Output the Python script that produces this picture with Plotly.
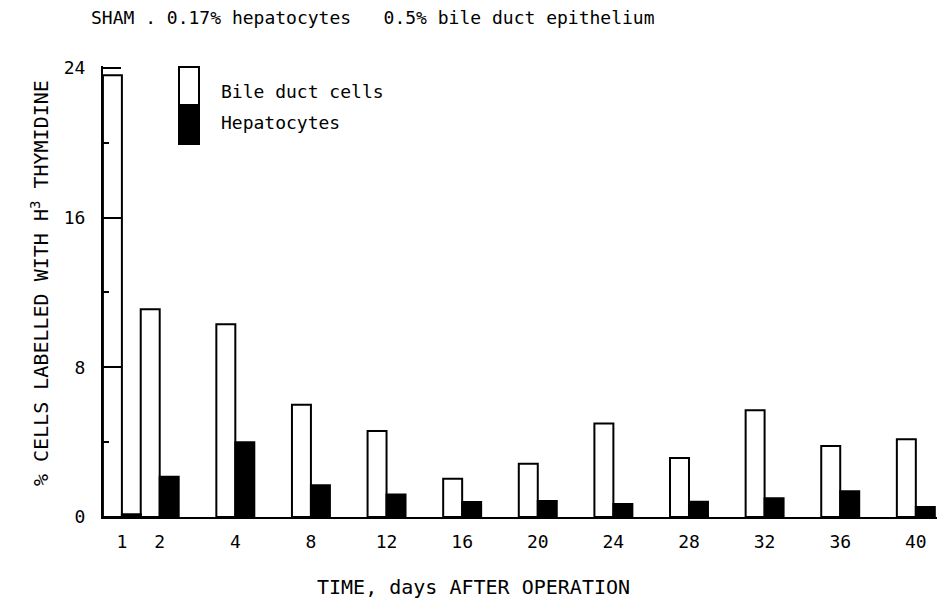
import plotly.graph_objects as go

# ---- data ----
days = ["1", "2", "4", "8", "12", "16", "20", "24", "28", "32", "36", "40"]
positions = [0.5, 1, 2, 3, 4, 5, 6, 7, 8, 9, 10, 11]
bile_duct = [23.6, 11.1, 10.3, 6.0, 4.6, 2.05, 2.85, 5.0, 3.15, 5.7, 3.8, 4.15]
hepatocytes = [0.15, 2.15, 4.0, 1.7, 1.2, 0.8, 0.85, 0.7, 0.82, 1.0, 1.38, 0.53]
y_ticks = [0, 8, 16, 24]

FONT = "DejaVu Sans Mono"
W, H = 940, 602
ML, MR, MT, MB = 103, 3, 66, 85
BW = 0.251

fig = go.Figure()
fig.add_trace(go.Bar(
    x=positions, y=bile_duct, width=BW, offset=-BW,
    marker=dict(color="white", line=dict(color="black", width=2)),
    name="Bile duct cells", showlegend=False,
))
fig.add_trace(go.Bar(
    x=positions, y=hepatocytes, width=BW, offset=0,
    marker=dict(color="black", line=dict(color="black", width=2)),
    name="Hepatocytes", showlegend=False,
))

def px(x):
    return (x - ML) / (W - ML - MR)

def py(y):
    return (H - MB - y) / (H - MT - MB)

shapes = [
    dict(type="rect", xref="paper", yref="paper", x0=px(179), x1=px(199), y0=py(105), y1=py(67),
         fillcolor="white", line=dict(color="black", width=2)),
    dict(type="rect", xref="paper", yref="paper", x0=px(179), x1=px(199), y0=py(144), y1=py(105),
         fillcolor="black", line=dict(color="black", width=2)),
]

annotations = [
    dict(text="Bile duct cells", x=px(219), y=py(91), xref="paper", yref="paper",
         xanchor="left", yanchor="middle", showarrow=False, font=dict(family=FONT, size=18, color="black")),
    dict(text="Hepatocytes", x=px(219), y=py(122), xref="paper", yref="paper",
         xanchor="left", yanchor="middle", showarrow=False, font=dict(family=FONT, size=18, color="black")),
    dict(text="SHAM . 0.17% hepatocytes\u00a0\u00a0 0.5% bile duct epithelium", x=px(89), y=py(17),
         xref="paper", yref="paper", xanchor="left", yanchor="middle", showarrow=False,
         font=dict(family=FONT, size=18, color="black")),
    dict(text="TIME, days AFTER OPERATION", x=px(473), y=py(587), xref="paper", yref="paper",
         xanchor="center", yanchor="middle", showarrow=False, font=dict(family=FONT, size=20, color="black")),
    dict(text="% CELLS LABELLED WITH H<sup>3</sup> THYMIDINE", x=px(40), y=py(283), xref="paper", yref="paper",
         xanchor="center", yanchor="middle", textangle=-90, showarrow=False,
         font=dict(family=FONT, size=20, color="black")),
]

fig.update_layout(
    width=W, height=H,
    margin=dict(l=ML, r=MR, t=MT, b=MB),
    paper_bgcolor="white", plot_bgcolor="white",
    barmode="overlay",
    shapes=shapes, annotations=annotations,
    font=dict(family=FONT, size=18, color="black"),
    xaxis=dict(
        range=[0.25, 11.28], tickmode="array", tickvals=positions, ticktext=days,
        showgrid=False, zeroline=False, showline=True, linecolor="black", linewidth=2,
        ticks="", ticklabelstandoff=7, tickfont=dict(family=FONT, size=18, color="black"),
    ),
    yaxis=dict(
        range=[0, 24.1], tickmode="array", tickvals=y_ticks,
        showgrid=False, zeroline=False, showline=True, linecolor="black", linewidth=2,
        ticks="inside", ticklen=18, tickwidth=1.5, tickcolor="black",
        minor=dict(ticks="inside", ticklen=6, tickwidth=1.5, tickcolor="black", dtick=4, tick0=0),
        ticklabelstandoff=12, tickfont=dict(family=FONT, size=18, color="black"),
    ),
)

fig.write_html("out.html", config={"displayModeBar": False},
               post_script="document.body.style.margin='0px';")
